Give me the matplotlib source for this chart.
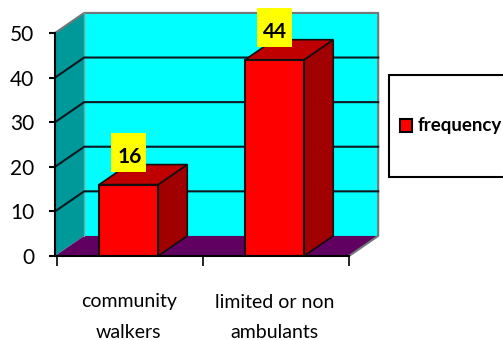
import matplotlib
matplotlib.use("Agg")
import matplotlib.pyplot as plt
from matplotlib.patches import Polygon, Rectangle
from matplotlib.lines import Line2D

plt.rcParams['font.family'] = ['Lato', 'DejaVu Sans']

# Chart data
categories = ["community\nwalkers", "limited or non\nambulants"]
frequency = [16, 44]
y_ticks = [0, 10, 20, 30, 40, 50]
series_name = "frequency"

W, H = 503, 340
fig = plt.figure(figsize=(W / 100, H / 100), dpi=100)
ax = fig.add_axes([55 / W, 1 - 256 / H, 294 / W, 223 / H])
ax.set_xlim(-0.014, 2)
ax.set_ylim(0, 50)
ax.patch.set_visible(False)

# 3D depth of the box, in data units
dx = 0.2
dy = 4.5
x0, x1 = ax.get_xlim()
y_top = y_ticks[-1]


def poly(points, color, z, edge="none", lw=0):
    ax.add_patch(Polygon(points, closed=True, facecolor=color, edgecolor=edge,
                         linewidth=lw, zorder=z, clip_on=False))


def line(xs, ys, z, color="#101820", lw=1.5):
    ax.add_line(Line2D(xs, ys, color=color, lw=lw, zorder=z, clip_on=False))


# Back wall, side wall and floor
poly([(x0 + dx, dy), (x1 + dx, dy), (x1 + dx, y_top + dy), (x0 + dx, y_top + dy)], "#00FFFF", 1)
poly([(x0, 0), (x0 + dx, dy), (x0 + dx, y_top + dy), (x0, y_top)], "#009999", 1)
poly([(x0, 0), (x1, 0), (x1 + dx, dy), (x0 + dx, dy)], "#600060", 1)

# Grey rim around the walls
line([x0, x0 + dx, x1 + dx, x1 + dx, x1], [y_top, y_top + dy, y_top + dy, dy, 0], 2, "#707878", 1.5)
line([x0 + dx, x0 + dx], [dy, y_top + dy], 2, "#70A8A8", 1)

# Gridlines along the side wall and the back wall
for t in y_ticks[1:-1]:
    line([x0, x0 + dx, x1 + dx], [t, t + dy, t + dy], 2)

# Bars with their top and side faces
width = 0.404
centers = [i + 0.49 for i in range(len(frequency))]
for c, v in zip(centers, frequency):
    left, right = c - width / 2, c + width / 2
    poly([(right, 0), (right + dx, dy), (right + dx, v + dy), (right, v)], "#A00000", 3, "#101010", 1.2)
    poly([(left, v), (right, v), (right + dx, v + dy), (left + dx, v + dy)], "#C00000", 3, "#101010", 1.2)
ax.bar(centers, frequency, width, color="#FF0000", edgecolor="#101010", linewidth=1.5, zorder=4)

# Value labels on yellow boxes
box_w = 0.24
box_h = 8.7
for c, v in zip(centers, frequency):
    ax.add_patch(Rectangle((c - box_w / 2, v + 2.8), box_w, box_h, facecolor="#FFFF00",
                           edgecolor="none", zorder=6, clip_on=False))
    ax.annotate(str(v), (c, v), xytext=(0.5, 20), textcoords="offset points",
                ha="center", va="center", fontsize=15, fontweight="bold", color="black", zorder=7)

# Axes, ticks and labels
for side in ("top", "right"):
    ax.spines[side].set_visible(False)
ax.spines["left"].set_linewidth(1.5)
ax.spines["bottom"].set_linewidth(1.5)
ax.spines["left"].set_zorder(5)
ax.spines["bottom"].set_zorder(5)
ax.set_yticks(y_ticks)
ax.tick_params(axis="y", length=4, width=1.5, labelsize=15, pad=11)
ax.set_xticks(range(len(categories) + 1))
ax.set_xticklabels([])
ax.tick_params(axis="x", which="major", length=7, width=1.2)
ax.set_xticks(centers, minor=True)
ax.set_xticklabels(categories, minor=True, fontsize=14, linespacing=2.0)
ax.tick_params(axis="x", which="minor", length=0, pad=27)

# Legend box running off the right edge
fig.add_artist(Rectangle((389 / W, 1 - 176.5 / H), 130 / W, 101.5 / H, transform=fig.transFigure,
                         facecolor="white", edgecolor="black", linewidth=1.5))
fig.add_artist(Rectangle((400 / W, 1 - 132.5 / H), 11.5 / W, 13 / H, transform=fig.transFigure,
                         facecolor="#FF0000", edgecolor="black", linewidth=1.5))
fig.text(418 / W, 1 - 125 / H, series_name, fontsize=13.5, fontweight="bold", va="center", ha="left")

fig.savefig("out.png", dpi=100)
